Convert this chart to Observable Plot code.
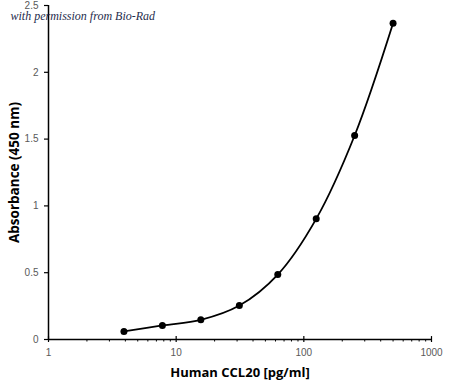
<!DOCTYPE html>
<html>
<head>
<meta charset="utf-8">
<script src="https://cdn.jsdelivr.net/npm/d3@7"></script>
<script src="https://cdn.jsdelivr.net/npm/@observablehq/plot@0.6"></script>
<style>
  html, body { margin: 0; padding: 0; background: #fff; }
  #chart svg { display: block; }
</style>
</head>
<body>
<div id="chart"></div>
<script>
const concentration = [3.9, 7.8, 15.6, 31.25, 62.5, 125, 250, 500];
const absorbance = [0.060, 0.105, 0.147, 0.254, 0.486, 0.903, 1.527, 2.367];
const xMajorTicks = [1, 10, 100, 1000];
const xMinorTicks = [2,3,4,5,6,7,8,9,20,30,40,50,60,70,80,90,200,300,400,500,600,700,800,900];
const yTicks = [0, 0.5, 1, 1.5, 2, 2.5];
const xTitle = "Human CCL20 [pg/ml]";
const yTitle = "Absorbance (450 nm)";
const credit = "with permission from Bio-Rad";

const data = concentration.map((c, i) => ({c, a: absorbance[i]}));

const chart = Plot.plot({
  width: 450,
  height: 385,
  marginLeft: 48,
  marginRight: 19,
  marginTop: 5,
  marginBottom: 46,
  style: {background: "#fff", overflow: "visible"},
  x: {type: "log", domain: [1, 1000]},
  y: {domain: [0, 2.5]},
  marks: [
    Plot.axisY({ticks: yTicks, tickSize: 4, tickPadding: 6, label: null,
      tickFormat: d => String(d), fontSize: 10, fontFamily: "Liberation Sans",
      fill: "#595959", stroke: "#000", strokeWidth: 1.2}),
    Plot.axisX({ticks: xMinorTicks, tickSize: 2.5, tickFormat: () => "", label: null,
      stroke: "#000", strokeWidth: 1}),
    Plot.axisX({ticks: xMajorTicks, tickSize: 3, tickPadding: 6, label: null,
      tickFormat: d => String(d), fontSize: 10, fontFamily: "Liberation Sans",
      fill: "#595959", stroke: "#000", strokeWidth: 1.2}),
    Plot.ruleX(xMajorTicks, {y1: 0, y2: 0.022, stroke: "#000", strokeWidth: 1.2}),
    Plot.ruleY([0], {stroke: "#000", strokeWidth: 1.5}),
    Plot.ruleX([1], {stroke: "#000", strokeWidth: 1.5}),
    Plot.line(data, {x: "c", y: "a", curve: "catmull-rom", stroke: "#000", strokeWidth: 1.8}),
    Plot.dot(data, {x: "c", y: "a", r: 3.5, fill: "#000", stroke: "none"}),
    Plot.text([yTitle], {frameAnchor: "left", rotate: -90, dx: -34, text: d => d,
      textAnchor: "middle", lineAnchor: "middle",
      fontSize: 13.5, fontWeight: "bold", fontFamily: "Open Sans", fill: "#000"}),
    Plot.text([xTitle], {frameAnchor: "bottom", dy: 33, text: d => d,
      textAnchor: "middle", lineAnchor: "middle",
      fontSize: 13, fontWeight: "bold", fontFamily: "Open Sans", fill: "#000"}),
    Plot.text([credit], {frameAnchor: "top-left", dx: -38, dy: 11, text: d => d,
      textAnchor: "start", lineAnchor: "middle", fontSize: 12, fontStyle: "italic",
      fontFamily: "Liberation Serif", fill: "#1f2d4d"})
  ]
});
document.getElementById("chart").appendChild(chart);
</script>
</body>
</html>
